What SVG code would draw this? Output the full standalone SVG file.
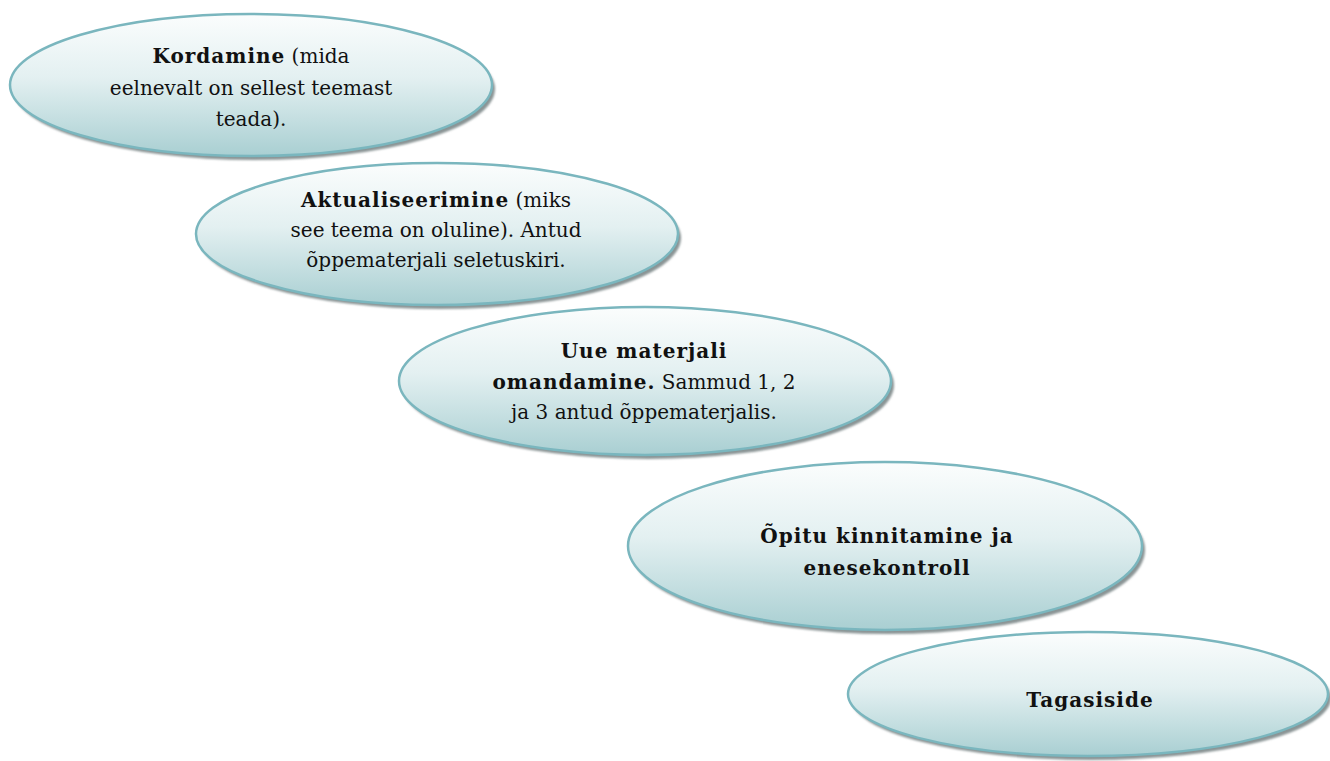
<svg xmlns="http://www.w3.org/2000/svg" width="1330" height="761" viewBox="0 0 1330 761">
<defs>
<linearGradient id="g" x1="0" y1="0" x2="0" y2="1">
<stop offset="0" stop-color="#fbfdfd"/>
<stop offset="0.45" stop-color="#e3f0f1"/>
<stop offset="1" stop-color="#a9cfd2"/>
</linearGradient>
<filter id="blur" x="-5%" y="-5%" width="110%" height="120%"><feGaussianBlur stdDeviation="1"/></filter>
</defs>
<style>
.sh{fill:#8a9495;filter:url(#blur)}
.el{fill:url(#g);stroke:#7ab6be;stroke-width:2.5}
text{font-family:"DejaVu Serif","Liberation Serif",serif;font-size:20px;fill:#111;text-anchor:middle}
.b{font-weight:bold;letter-spacing:1px}
</style>
<rect width="1330" height="761" fill="#ffffff"/>
<g id="connectors"></g>
<g id="n1">
<ellipse class="sh" cx="254" cy="89" rx="241" ry="71"/>
<ellipse class="el" cx="251" cy="85" rx="241" ry="71"/>
<text x="251" y="63"><tspan class="b">Kordamine</tspan> (mida</text>
<text x="251" y="95">eelnevalt on sellest teemast</text>
<text x="251" y="126">teada).</text>
</g>
<g id="n2">
<ellipse class="sh" cx="440" cy="238" rx="241" ry="71"/>
<ellipse class="el" cx="437" cy="234" rx="241" ry="71"/>
<text x="436" y="207"><tspan class="b">Aktualiseerimine</tspan> (miks</text>
<text x="436" y="237">see teema on oluline). Antud</text>
<text x="436" y="267">õppematerjali seletuskiri.</text>
</g>
<g id="n3">
<ellipse class="sh" cx="648" cy="385" rx="246" ry="74"/>
<ellipse class="el" cx="645" cy="381" rx="246" ry="74"/>
<text x="644" y="358" class="b">Uue materjali</text>
<text x="644" y="389"><tspan class="b">omandamine.</tspan> Sammud 1, 2</text>
<text x="644" y="419">ja 3 antud õppematerjalis.</text>
</g>
<g id="n4">
<ellipse class="sh" cx="888" cy="550" rx="257" ry="84"/>
<ellipse class="el" cx="885" cy="546" rx="257" ry="84"/>
<text x="887" y="543" class="b">Õpitu kinnitamine ja</text>
<text x="887" y="575" class="b">enesekontroll</text>
</g>
<g id="n5">
<ellipse class="sh" cx="1091" cy="698" rx="240" ry="62"/>
<ellipse class="el" cx="1088" cy="694" rx="240" ry="62"/>
<text x="1090" y="707" class="b">Tagasiside</text>
</g>
</svg>
